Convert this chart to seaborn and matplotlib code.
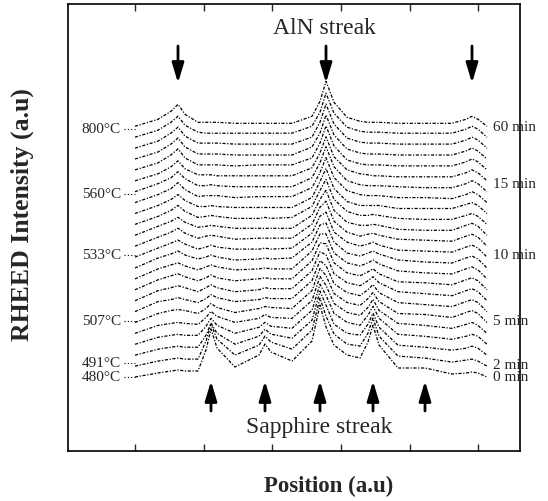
import numpy as np
import pandas as pd
import matplotlib
matplotlib.use('Agg')
import matplotlib.pyplot as plt
import seaborn as sns

# positions of the knots along each profile (a.u.)
positions = [135, 158, 171, 178, 185, 198, 206, 211, 217, 235, 259, 265, 271, 292, 312,
             320, 326, 334, 347, 360, 368, 373, 379, 398, 425, 452, 466, 472, 478, 487]
aln_peaks = [178, 326, 472]
sapphire_peaks = [211, 265, 320, 373, 425]

# intensity above each profile's own baseline, bottom (0 min) to top (60 min)
profiles = [
    [0, 4, 6, 7, 6, 6, 27, 48, 29, 10, 22, 33, 25, 16, 36, 72, 50, 32, 22, 19, 35, 52, 32, 9, 9, 3, 4, 5, 4, 0],
    [0, 5, 7, 8, 7, 7, 25, 42, 27, 11, 21, 30, 24, 17, 36, 68, 50, 32, 22, 20, 33, 48, 30, 10, 8, 4, 6, 7, 5, 0],
    [0, 6, 8, 9, 8, 8, 20, 32, 22, 11, 19, 26, 21, 17, 35, 64, 50, 31, 22, 20, 31, 42, 28, 10, 8, 5, 7, 9, 7, 0],
    [0, 7, 9, 10, 9, 9, 18, 26, 19, 11, 17, 22, 18, 16, 34, 60, 49, 31, 22, 19, 29, 38, 26, 10, 8, 5, 8, 10, 8, 0],
    [0, 8, 10, 11, 10, 9, 16, 22, 17, 11, 15, 19, 16, 15, 33, 57, 48, 30, 21, 18, 26, 34, 23, 10, 8, 5, 9, 11, 8, 0],
    [0, 9, 12, 13, 12, 9, 14, 19, 15, 10, 14, 16, 15, 14, 32, 54, 47, 29, 20, 17, 24, 30, 21, 9, 8, 5, 10, 12, 9, 0],
    [0, 10, 12, 14, 12, 9, 13, 17, 14, 10, 12, 14, 13, 13, 31, 51, 46, 28, 19, 16, 22, 27, 19, 9, 7, 5, 10, 12, 9, 0],
    [0, 10, 13, 15, 13, 9, 13, 16, 13, 9, 11, 13, 12, 12, 30, 49, 46, 27, 18, 15, 20, 24, 18, 9, 7, 5, 10, 12, 9, 0],
    [0, 10, 14, 16, 13, 9, 12, 15, 12, 9, 11, 12, 11, 11, 29, 47, 46, 27, 17, 14, 18, 21, 16, 8, 7, 5, 10, 12, 9, 0],
    [0, 10, 14, 16, 13, 9, 12, 14, 12, 9, 10, 11, 10, 10, 28, 45, 45, 26, 16, 13, 16, 19, 15, 8, 6, 5, 10, 12, 9, 0],
    [0, 10, 14, 17, 13, 9, 11, 13, 11, 8, 9, 10, 9, 10, 26, 43, 45, 26, 15, 12, 15, 17, 14, 8, 6, 5, 10, 12, 9, 0],
    [0, 9, 14, 17, 13, 8, 10, 12, 10, 8, 8, 9, 8, 9, 24, 41, 45, 25, 15, 11, 13, 15, 12, 7, 6, 5, 10, 12, 9, 0],
    [0, 9, 14, 18, 13, 8, 10, 11, 10, 7, 8, 8, 8, 8, 22, 39, 45, 25, 14, 10, 12, 13, 11, 7, 6, 5, 10, 12, 9, 0],
    [0, 9, 14, 18, 13, 8, 9, 10, 9, 7, 7, 7, 7, 7, 20, 36, 45, 25, 13, 10, 10, 11, 10, 6, 5, 5, 10, 12, 9, 0],
    [0, 8, 14, 19, 13, 7, 8, 9, 8, 6, 6, 7, 6, 7, 18, 34, 45, 25, 13, 9, 9, 10, 9, 6, 5, 5, 9, 11, 8, 0],
    [0, 8, 14, 19, 13, 7, 7, 8, 7, 6, 6, 6, 6, 6, 16, 32, 45, 25, 12, 8, 8, 8, 8, 5, 5, 5, 9, 11, 8, 0],
    [0, 8, 14, 20, 13, 6, 7, 7, 7, 5, 6, 6, 6, 6, 15, 30, 45, 25, 12, 8, 7, 7, 7, 5, 5, 4, 8, 11, 8, 0],
    [0, 8, 14, 20, 13, 6, 6, 7, 6, 5, 5, 5, 5, 5, 14, 29, 45, 25, 11, 7, 6, 6, 6, 5, 4, 4, 8, 11, 8, 0],
    [0, 7, 14, 20, 12, 6, 6, 6, 5, 5, 5, 5, 5, 5, 13, 28, 44, 24, 11, 7, 6, 5, 5, 4, 4, 4, 8, 11, 8, 0],
    [0, 7, 15, 21, 12, 5, 5, 5, 5, 4, 5, 5, 5, 5, 12, 27, 44, 24, 10, 6, 5, 5, 5, 4, 4, 4, 8, 11, 8, 0],
    [0, 7, 15, 21, 12, 5, 5, 5, 5, 4, 4, 4, 4, 4, 12, 26, 44, 24, 10, 6, 5, 5, 5, 4, 4, 4, 8, 11, 8, 0],
    [0, 7, 15, 21, 12, 5, 5, 5, 5, 4, 4, 4, 4, 4, 11, 26, 44, 24, 10, 6, 5, 5, 5, 4, 4, 4, 8, 11, 8, 0],
    [0, 7, 15, 21, 12, 5, 4, 4, 4, 4, 4, 4, 4, 4, 11, 25, 44, 24, 10, 6, 5, 5, 5, 4, 4, 4, 8, 11, 8, 0],
    [0, 7, 15, 22, 12, 4, 4, 4, 4, 3, 3, 3, 3, 3, 10, 25, 45, 24, 9, 5, 4, 4, 4, 3, 3, 3, 7, 10, 7, 0],
]

temp_labels = ['480°C', '491°C', '507°C', '533°C', '560°C', '800°C']
temp_y = [0, 14, 56, 122, 183, 248]
time_labels = ['0 min', '2 min', '5 min', '10 min', '15 min', '60 min']
time_y = [0, 12, 56, 122, 193, 250]

step = 10.9  # vertical offset between successive profiles

rows = []
for i, prof in enumerate(profiles):
    for x, v in zip(positions, prof):
        rows.append({'trace': i, 'pos': x, 'inten': v + i * step})
df = pd.DataFrame(rows)

sns.set_theme(style='ticks')
plt.rcParams['font.family'] = ['Liberation Serif', 'DejaVu Serif']

fig = plt.figure(figsize=(5.48, 5.02), dpi=100)
ax = fig.add_axes([68 / 548, 1 - 452 / 502, (520 - 68) / 548, (452 - 5) / 502])

sns.lineplot(data=df, x='pos', y='inten', units='trace', estimator=None, sort=False,
             color='black', linewidth=0.9, linestyle=(0, (2.5, 1.3, 1, 1.3)), ax=ax)

ax.set_xlim(68, 520)
ax.set_ylim(-74, 373)
ax.set_xticks([135, 204, 272, 341, 410, 478])
ax.set_yticks([])
ax.tick_params(axis='x', direction='in', top=True, bottom=True, length=5, width=1,
               labelbottom=False, labeltop=False)
for sp in ax.spines.values():
    sp.set_linewidth(1.2)
    sp.set_color('black')
ax.set_xlabel('')
ax.set_ylabel('')

# side labels with dotted leaders
for lab, y in zip(temp_labels, temp_y):
    ax.text(121, y, lab, ha='right', va='center', fontsize=11)
    ax.plot([124, positions[0]], [y, y], color='black', lw=0.8, ls=(0, (1, 2)))
for lab, y in zip(time_labels, time_y):
    ax.text(493, y, lab, ha='left', va='center', fontsize=11, clip_on=False)

# streak arrows
for x in aln_peaks:
    ax.annotate('', xy=(x, 378 - 84), xytext=(x, 378 - 47),
                arrowprops=dict(arrowstyle='-|>,head_length=1.0,head_width=0.3',
                                lw=2, color='black', shrinkA=0, shrinkB=0))
for x in sapphire_peaks:
    ax.annotate('', xy=(x, -4), xytext=(x, -34),
                arrowprops=dict(arrowstyle='-|>,head_length=1.0,head_width=0.3',
                                lw=2, color='black', shrinkA=0, shrinkB=0))

ax.text(324, 378 - 28, 'AlN streak', ha='center', va='center', fontsize=17)
ax.text(319, 378 - 428, 'Sapphire streak', ha='center', va='center', fontsize=17)

fig.text(329 / 548, 1 - 486 / 502, 'Position (a.u)', ha='center', va='center',
         fontsize=16.5, fontweight='bold')
fig.text(22 / 548, 1 - 215 / 502, 'RHEED Intensity (a.u)', ha='center', va='center',
         fontsize=18.5, fontweight='bold', rotation=90)

fig.savefig('out.png', dpi=100)
